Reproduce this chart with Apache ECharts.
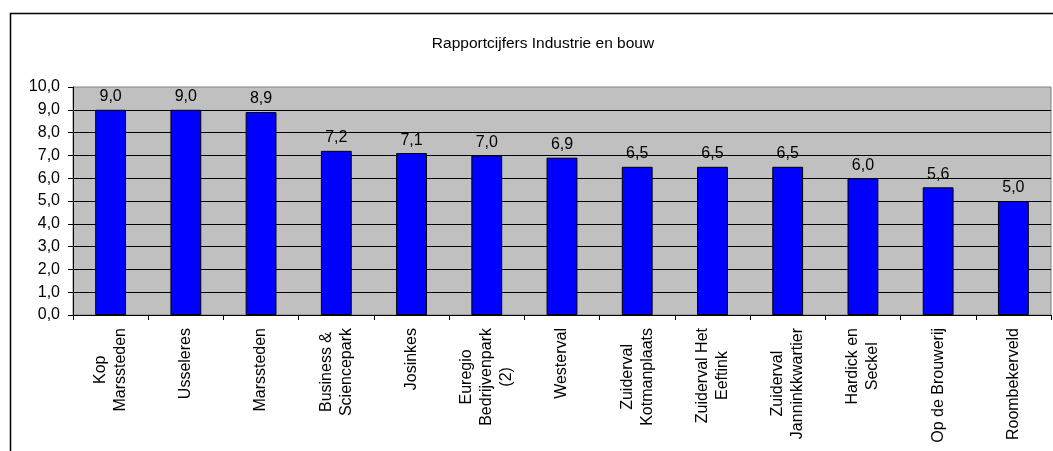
<!DOCTYPE html>
<html>
<head>
<meta charset="utf-8">
<script src="https://cdn.jsdelivr.net/npm/echarts@6/dist/echarts.min.js"></script>
<style>
  html, body { margin: 0; padding: 0; background: #fff; overflow: hidden; }
  #chart { width: 1053px; height: 451px; }
</style>
</head>
<body>
<div id="chart"></div>
<script>
// Report marks per business park (industry & construction)
const categories = [
  'Kop\nMarssteden',
  'Usseleres',
  'Marssteden',
  'Business &\nSciencepark',
  'Josinkes',
  'Euregio\nBedrijvenpark\n(2)',
  'Westerval',
  'Zuiderval\nKotmanplaats',
  'Zuiderval Het\nEeftink',
  'Zuiderval\nJanninkkwartier',
  'Hardick en\nSeckel',
  'Op de Brouwerij',
  'Roombekerveld'
];
const scores = [9.0, 9.0, 8.9, 7.2, 7.1, 7.0, 6.9, 6.5, 6.5, 6.5, 6.0, 5.6, 5.0];
const titleText = 'Rapportcijfers Industrie en bouw';

const FONT = '"Liberation Sans", Arial, sans-serif';
const fmt = v => Number(v).toFixed(1).replace('.', ',');

const chart = echarts.init(document.getElementById('chart'), null, { renderer: 'canvas' });

chart.setOption({
  animation: false,
  backgroundColor: '#ffffff',
  title: {
    text: titleText,
    left: 538,
    top: 31,
    textAlign: 'center',
    textStyle: { fontFamily: FONT, fontSize: 15.5, fontWeight: 'normal', color: '#000' }
  },
  graphic: [{
    type: 'rect',
    silent: true,
    z: -1,
    shape: { x: 10.5, y: 13.5, width: 1200, height: 600 },
    style: { fill: null, stroke: '#000', lineWidth: 1.5 }
  }],
  grid: {
    left: 73, right: 2, top: 87, bottom: 136,
    show: true,
    backgroundColor: '#C0C0C0',
    borderColor: '#808080',
    borderWidth: 1
  },
  xAxis: {
    type: 'category',
    data: categories,
    axisLine: { lineStyle: { color: '#000', width: 1 } },
    axisTick: { show: true, length: 5, lineStyle: { color: '#000' } },
    axisLabel: {
      interval: 0,
      rotate: 90,
      margin: 13,
      color: '#000',
      fontFamily: FONT,
      fontSize: 16,
      lineHeight: 20,
      formatter: v => v.split('\n').map(s => '{c|' + s + '}').join('\n'),
      rich: {
        c: { align: 'center', fontFamily: FONT, fontSize: 16, lineHeight: 20, color: '#000' }
      }
    }
  },
  yAxis: {
    type: 'value',
    min: 0, max: 10, interval: 1,
    axisLine: { show: true, lineStyle: { color: '#000', width: 1 } },
    axisTick: { show: true, length: 5, lineStyle: { color: '#000' } },
    splitLine: { show: true, showMaxLine: false, lineStyle: { color: '#000', width: 1 } },
    axisLabel: {
      margin: 13,
      color: '#000',
      fontFamily: FONT,
      fontSize: 16,
      formatter: fmt
    }
  },
  series: [{
    type: 'bar',
    data: scores,
    barWidth: '41%',
    itemStyle: { color: '#0000FF', borderColor: '#000', borderWidth: 1 },
    label: {
      show: true,
      position: 'top',
      distance: 5,
      color: '#000',
      fontFamily: FONT,
      fontSize: 16,
      formatter: p => fmt(p.value)
    }
  }]
});
</script>
</body>
</html>
